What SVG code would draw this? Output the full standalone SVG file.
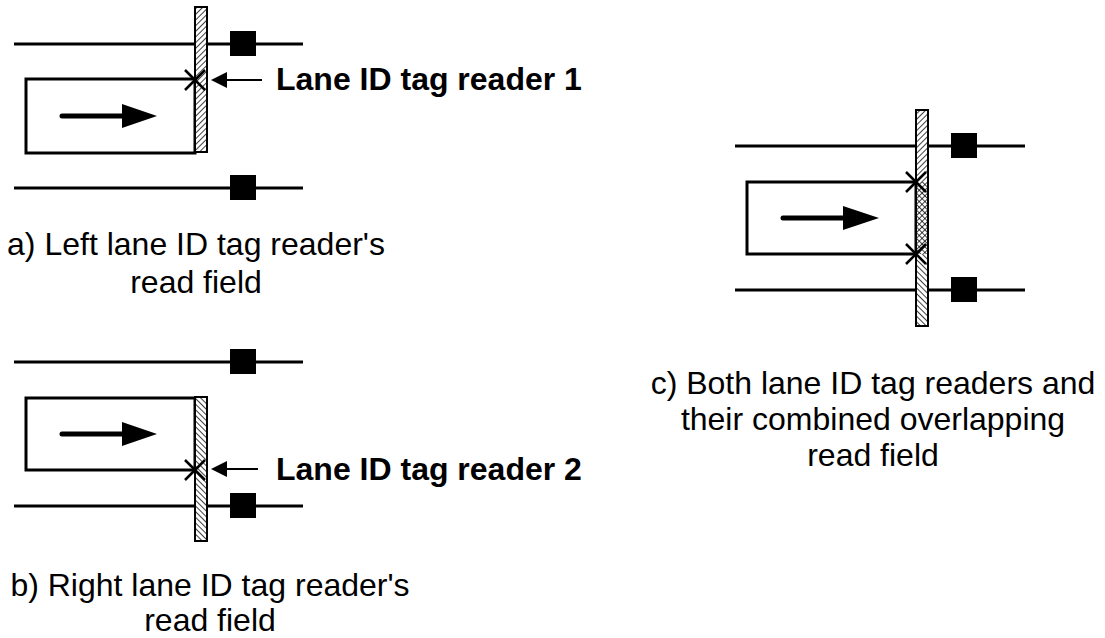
<svg xmlns="http://www.w3.org/2000/svg" width="1105" height="638" viewBox="0 0 1105 638">
<style>
.lane{stroke:#000;stroke-width:3;fill:none}
.sq{fill:#000}
.car{stroke:#000;stroke-width:3;fill:#fff}
.bar{stroke:#000;stroke-width:2}
.dir{stroke:#000;stroke-width:5;stroke-linecap:round;fill:none}
.head{fill:#000}
.xm{stroke:#000;stroke-width:2.5;fill:none}
.lbl{stroke:#000;stroke-width:2;fill:none}
.cap{font-family:"Liberation Sans",Arial,sans-serif;font-size:32px;fill:#000;text-anchor:middle}
.bold{font-family:"Liberation Sans",Arial,sans-serif;font-size:32px;font-weight:bold;fill:#000}
</style>
<defs>
<pattern id="hatchR" patternUnits="userSpaceOnUse" width="4" height="4" patternTransform="rotate(45)">
<rect width="4" height="4" fill="#fff"/>
<line x1="0" y1="0" x2="0" y2="4" stroke="#000" stroke-width="1.5"/>
</pattern>
<pattern id="hatchL" patternUnits="userSpaceOnUse" width="4" height="4" patternTransform="rotate(-45)">
<rect width="4" height="4" fill="#fff"/>
<line x1="0" y1="0" x2="0" y2="4" stroke="#000" stroke-width="1.5"/>
</pattern>
<pattern id="cross" patternUnits="userSpaceOnUse" width="4" height="4" patternTransform="rotate(45)">
<rect width="4" height="4" fill="#fff"/>
<line x1="0" y1="0" x2="0" y2="4" stroke="#000" stroke-width="1.5"/>
<line x1="0" y1="0" x2="4" y2="0" stroke="#000" stroke-width="1.5"/>
</pattern>
</defs>

<g id="panel-a">
<line class="lane" x1="14" y1="44" x2="303" y2="44"/>
<rect class="sq" x="230" y="31" width="26" height="25"/>
<line class="lane" x1="14" y1="188" x2="303" y2="188"/>
<rect class="sq" x="230" y="175" width="26" height="25"/>
<rect class="car" x="26" y="79" width="169" height="74"/>
<line class="dir" x1="62" y1="116" x2="125" y2="116"/>
<polygon class="head" points="122,104 157,116 122,128"/>
<rect class="bar" x="195" y="7" width="12" height="145" fill="url(#hatchR)"/>
<path class="xm" d="M185,70 L205,90 M205,70 L185,90"/>
</g>

<g id="label-1">
<line class="lbl" x1="225" y1="80" x2="262" y2="80"/>
<polygon class="head" points="211,80 227,72 227,88"/>
<text class="bold" x="276" y="90">Lane ID tag reader 1</text>
</g>

<g id="caption-a">
<text class="cap" x="196" y="255">a) Left lane ID tag reader's</text>
<text class="cap" x="196" y="293">read field</text>
</g>

<g id="panel-b">
<line class="lane" x1="14" y1="362" x2="303" y2="362"/>
<rect class="sq" x="230" y="349" width="26" height="25"/>
<line class="lane" x1="14" y1="506" x2="303" y2="506"/>
<rect class="sq" x="230" y="493" width="26" height="25"/>
<rect class="car" x="26" y="398" width="169" height="72"/>
<line class="dir" x1="62" y1="434" x2="125" y2="434"/>
<polygon class="head" points="122,422 157,434 122,446"/>
<rect class="bar" x="195" y="397" width="12" height="144" fill="url(#hatchL)"/>
<path class="xm" d="M185,460 L205,480 M205,460 L185,480"/>
</g>

<g id="label-2">
<line class="lbl" x1="225" y1="469" x2="258" y2="469"/>
<polygon class="head" points="211,469 227,461 227,477"/>
<text class="bold" x="276" y="480">Lane ID tag reader 2</text>
</g>

<g id="caption-b">
<text class="cap" x="210" y="596">b) Right lane ID tag reader's</text>
<text class="cap" x="210" y="631">read field</text>
</g>

<g id="panel-c">
<line class="lane" x1="735" y1="146" x2="1025" y2="146"/>
<rect class="sq" x="951" y="133" width="26" height="25"/>
<line class="lane" x1="735" y1="290" x2="1025" y2="290"/>
<rect class="sq" x="951" y="277" width="26" height="25"/>
<rect class="car" x="747" y="182" width="169" height="72"/>
<line class="dir" x1="783" y1="218" x2="846" y2="218"/>
<polygon class="head" points="843,206 879,218 843,230"/>
<rect x="916" y="110" width="12" height="72" fill="url(#hatchR)"/>
<rect x="916" y="182" width="12" height="72" fill="url(#cross)"/>
<rect x="916" y="254" width="12" height="72" fill="url(#hatchL)"/>
<rect class="bar" x="916" y="110" width="12" height="216" fill="none"/>
<path class="xm" d="M906,172 L926,192 M926,172 L906,192"/>
<path class="xm" d="M906,244 L926,264 M926,244 L906,264"/>
</g>

<g id="caption-c">
<text class="cap" x="873" y="394">c) Both lane ID tag readers and</text>
<text class="cap" x="873" y="430">their combined overlapping</text>
<text class="cap" x="873" y="466">read field</text>
</g>
</svg>
